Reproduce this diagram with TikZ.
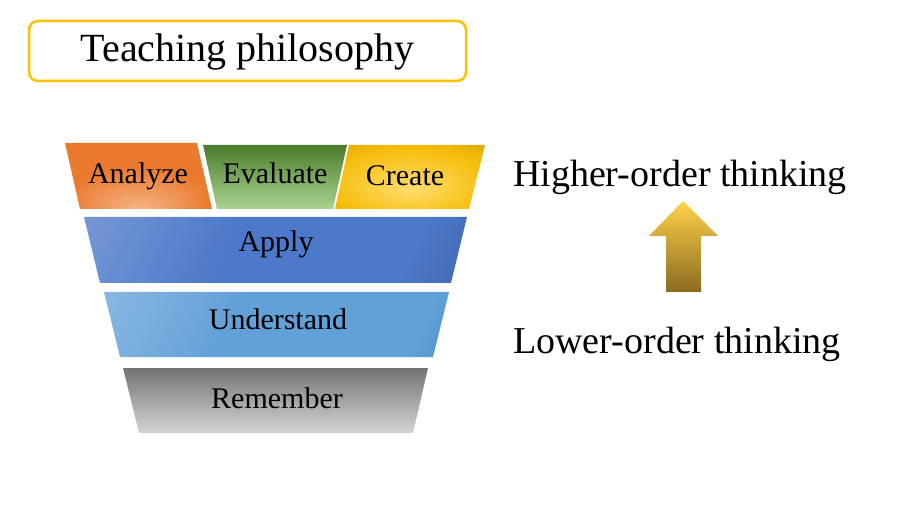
\documentclass[tikz,border=0pt]{standalone}
\usepackage{fontspec}
\setmainfont{Liberation Serif}
\usepackage{xcolor}
\usetikzlibrary{positioning}

\definecolor{Gold}{HTML}{FFC000}
\definecolor{AnLight}{HTML}{F6B88E}
\definecolor{AnMid}{HTML}{EA7A2E}
\definecolor{AnDark}{HTML}{B0531A}
\definecolor{EvTop}{HTML}{4C7C2E}
\definecolor{EvBottom}{HTML}{AAD38F}
\definecolor{CrLight}{HTML}{FFDD6E}
\definecolor{CrMid}{HTML}{F5BC08}
\definecolor{CrDark}{HTML}{B48A06}
\definecolor{ApTop}{HTML}{90ABDC}
\definecolor{ApMid}{HTML}{4D79CA}
\definecolor{ApBottom}{HTML}{2E528F}
\definecolor{UnTop}{HTML}{A2C7E8}
\definecolor{UnMid}{HTML}{62A0D8}
\definecolor{UnBottom}{HTML}{2E6FAE}
\definecolor{ReTop}{HTML}{747474}
\definecolor{ReBottom}{HTML}{D4D4D4}
\definecolor{ArrowTop}{HTML}{FFD24A}
\definecolor{ArrowBottom}{HTML}{8A6A1E}

\pgfdeclareradialshading{analyzeglow}{\pgfpoint{0bp}{-28bp}}{%
    color(0bp)=(AnLight); color(24bp)=(AnMid); color(45bp)=(AnMid); color(62bp)=(AnDark)}
\pgfdeclareradialshading{createglow}{\pgfpoint{0bp}{-10bp}}{%
    color(0bp)=(CrLight); color(28bp)=(CrMid); color(55bp)=(CrDark)}
\pgfdeclarehorizontalshading{applyfade}{100bp}{%
    color(0bp)=(ApTop); color(42bp)=(ApMid); color(72bp)=(ApMid); color(100bp)=(ApBottom)}
\pgfdeclarehorizontalshading{understandfade}{100bp}{%
    color(0bp)=(UnTop); color(42bp)=(UnMid); color(76bp)=(UnMid); color(100bp)=(UnBottom)}

\begin{document}
\begin{tikzpicture}[
        x=1pt, y=-1pt,
        tag/.style = {
            anchor=base,
            font=\fontsize{30}{36}\selectfont
        },
        side/.style = {
            anchor=base,
            font=\fontsize{38}{44}\selectfont
        },
        titlebox/.style = {
            draw=Gold,
            line width=2.5pt,
            rounded corners=9pt,
            minimum width=437pt,
            minimum height=60pt,
            text height=27pt,
            text depth=5pt,
            font=\fontsize{40}{46}\selectfont
        }
    ]
        \useasboundingbox (0,0) rectangle (920,518);

        % title
        \node [titlebox] (title) at (247.5,51) {Teaching philosophy};

        % top row
        \shade [shading=analyzeglow] (65,143) -- (197,143) -- (212,209) -- (80,209) -- cycle;
        \shade [top color=EvTop, bottom color=EvBottom] (203,145) -- (347,145) -- (333,209) -- (217,209) -- cycle;
        \shade [shading=createglow] (349,145) -- (485,145) -- (469,209) -- (335,209) -- cycle;

        % lower bands
        \shade [shading=applyfade, shading angle=-25]
            (84,217) -- (467,217) -- (451,283) -- (100,283) -- cycle;
        \shade [shading=understandfade, shading angle=-25]
            (104,292) -- (449,292) -- (433,357) -- (120,357) -- cycle;
        \shade [top color=ReTop, bottom color=ReBottom]
            (123,368) -- (428,368) -- (413,433) -- (139,433) -- cycle;

        \node [tag] (analyze)    at (138,184) {Analyze};
        \node [tag] (evaluate)   at (275,184) {Evaluate};
        \node [tag] (create)     at (405,186) {Create};
        \node [tag] (apply)      at (276,252) {Apply};
        \node [tag] (understand) at (278,329) {Understand};
        \node [tag] (remember)   at (277,408) {Remember};

        % right side
        \node [side] (higher) at (680,187) {Higher-order thinking};
        \node [side] (lower)  at (677,353) {Lower-order thinking};

        \shade [top color=ArrowTop, bottom color=ArrowBottom]
            (683,201) -- (718,236) -- (701,236) -- (701,292) -- (666,292) -- (666,236) -- (649,236) -- cycle;
    \end{tikzpicture}
\end{document}
